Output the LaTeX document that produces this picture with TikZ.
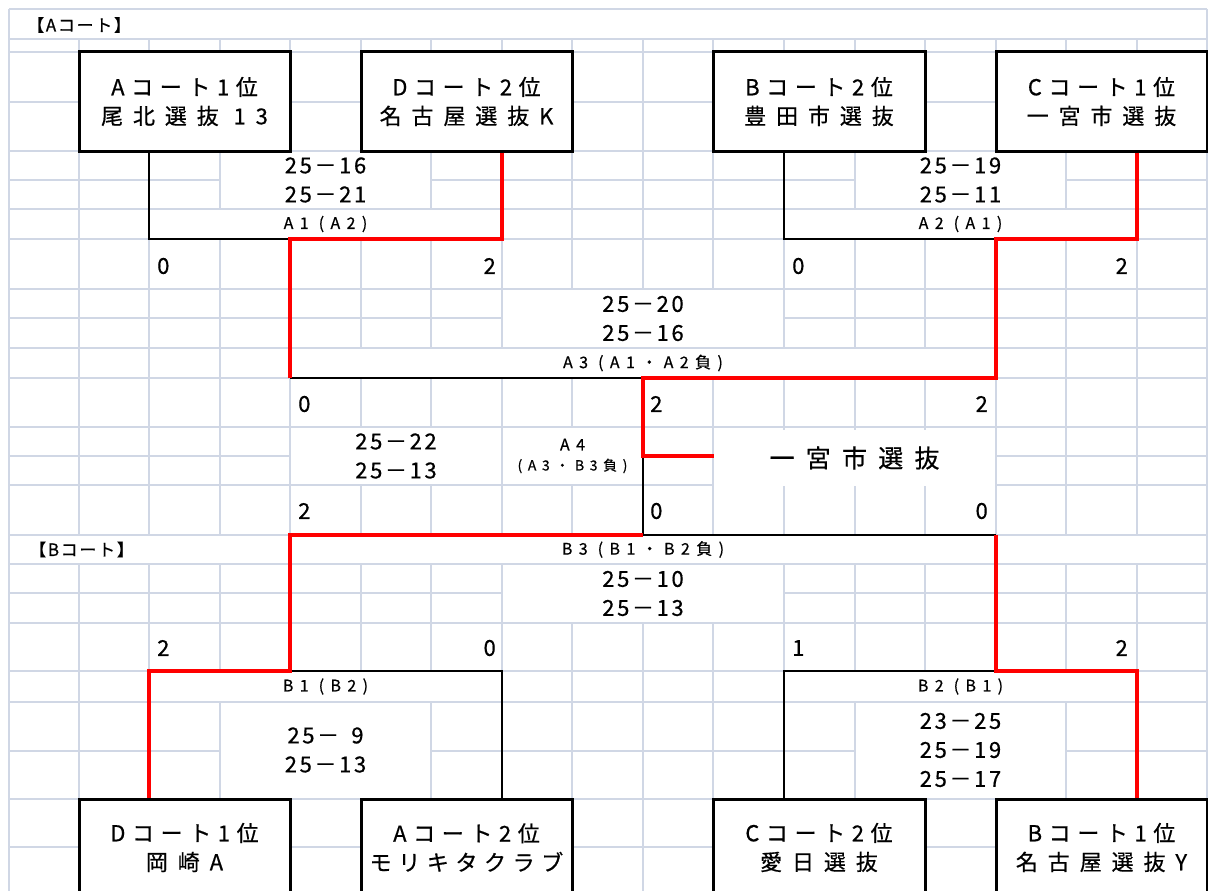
\documentclass[tikz,border=0pt]{standalone}
\usepackage{fontspec}
\setmainfont[FakeBold=0.6]{Noto Sans CJK JP}
\newfontfamily\teamfont[LetterSpace=45,FakeBold=0.6]{Noto Sans CJK JP}
\newfontfamily\courtfont[LetterSpace=30,FakeBold=0.6]{Noto Sans CJK JP}
\newfontfamily\scorefont[LetterSpace=12,FakeBold=0.6]{Noto Sans CJK JP}
\newfontfamily\labelfont[LetterSpace=40,FakeBold=0.6]{Noto Sans CJK JP}
\newfontfamily\headfont[LetterSpace=10,FakeBold=0.6]{Noto Sans CJK JP}
\definecolor{gridc}{RGB}{208,215,229}
\definecolor{winred}{RGB}{255,0,0}
\tikzset{
  gridline/.style={draw=gridc, line width=1.5pt},
  cell/.style 2 args={fill=white, inner sep=0pt, align=center, minimum width=#1, minimum height=#2},
  teambox/.style={draw, line width=3pt, fill=white, inner sep=0pt, align=center,
    minimum width=211, minimum height=99, font=\fontsize{22}{29}\selectfont},
  setscore/.style={font=\scorefont\fontsize{22}{29}\selectfont},
  gamelabel/.style={font=\labelfont\fontsize{16}{20}\selectfont},
  courthead/.style={inner sep=0pt, anchor=west, font=\headfont\fontsize{17}{20}\selectfont},
  pts/.style={inner sep=0pt, font=\fontsize{22}{24}\selectfont},
  loser/.style={draw=black, line width=2pt},
  winner/.style={draw=winred, line width=4pt, line join=miter},
}
\begin{document}
\begin{tikzpicture}[x=1pt, y=-1pt]
  \useasboundingbox (0,0) rectangle (1208,891);
  \clip (0,0) rectangle (1208,891);
  % sheet grid
  \foreach \y in {9,39,52,102,151,180,209,239,289,318,348,378,427,456,485,535,564,593,623,671,702,751,799,847}
    \draw [gridline] (9,\y) -- (1207,\y);
  \foreach \x in {9,79,149,220,290,361,431,502,572,643,713,784,855,925,996,1066,1137,1207}
    \draw [gridline] (\x,9) -- (\x,891);

  % merged cells
  \node [cell={1196}{28}] (ahead) at (608,24) {};
  \node [courthead] (acourt) at (27,25) {【Aコート】};
  \node [cell={209}{56}, setscore] (a1s) at (325.5,180) {25－16\\25－21};
  \node [cell={351}{28}, gamelabel] (a1t) at (325.5,224) {A1 (A2)};
  \node [cell={209}{56}, setscore] (a2s) at (960.5,180) {25－19\\25－11};
  \node [cell={351}{28}, gamelabel] (a2t) at (960.5,224) {A2 (A1)};
  \node [cell={280}{57}, setscore] (a3s) at (643,318.5) {25－20\\25－16};
  \node [cell={704}{28}, gamelabel] (a3t) at (643,363) {A3 (A1・A2負)};
  \node [cell={210}{56}, setscore] (a4s) at (396,456) {25－22\\25－13};
  \node [cell={139}{56}, gamelabel] (a4t) at (572.5,456) {A4\\{\fontsize{14}{18}\selectfont (A3・B3負)}};
  \node [cell={281}{56}, font=\teamfont\fontsize{25}{30}\selectfont] (champ) at (854.5,458) {一宮市選抜};
  \node [cell={1196}{27}] (bhead) at (608,549.5) {};
  \node [courthead] (bcourt) at (29,549.5) {【Bコート】};
  \node [gamelabel] (b3t) at (643,549.5) {B3 (B1・B2負)};
  \node [cell={280}{57}, setscore] (b3s) at (643,593.5) {25－10\\25－13};
  \node [cell={351}{29}, gamelabel] (b1t) at (325.5,686.5) {B1 (B2)};
  \node [cell={209}{95}, setscore] (b1s) at (325.5,750) {25－\hphantom{1}9\\25－13};
  \node [cell={351}{29}, gamelabel] (b2t) at (960.5,686.5) {B2 (B1)};
  \node [cell={209}{95}, setscore] (b2s) at (960.5,750) {23－25\\25－19\\25－17};

  % teams
  \node [teambox] (t1) at (184.5,101.5) {{\courtfont Aコート1位}\\{\teamfont 尾北選抜 13}};
  \node [teambox] (t2) at (466.5,101.5) {{\courtfont Dコート2位}\\{\teamfont 名古屋選抜K}};
  \node [teambox, minimum width=212] (t3) at (819,101.5) {{\courtfont Bコート2位}\\{\teamfont 豊田市選抜}};
  \node [teambox] (t4) at (1101.5,101.5) {{\courtfont Cコート1位}\\{\teamfont 一宮市選抜}};
  \node [teambox, minimum height=97] (u1) at (184.5,847.5) {{\courtfont Dコート1位}\\{\teamfont 岡崎A}};
  \node [teambox, minimum height=97] (u2) at (466.5,847.5) {{\courtfont Aコート2位}\\{\courtfont モリキタクラブ}};
  \node [teambox, minimum height=97, minimum width=212] (u3) at (819,847.5) {{\courtfont Cコート2位}\\{\teamfont 愛日選抜}};
  \node [teambox, minimum height=97] (u4) at (1101.5,847.5) {{\courtfont Bコート1位}\\{\teamfont 名古屋選抜Y}};

  % bracket corners
  \coordinate (a1l) at (149,239);
  \coordinate (a1m) at (290,239);
  \coordinate (a1r) at (502,239);
  \coordinate (a2l) at (784,239);
  \coordinate (a2m) at (996,239);
  \coordinate (a2r) at (1137,239);
  \coordinate (a3l) at (290,378);
  \coordinate (a3m) at (643,378);
  \coordinate (a3r) at (996,378);
  \coordinate (a4m) at (643,456);
  \coordinate (b3l) at (290,535);
  \coordinate (b3m) at (643,535);
  \coordinate (b3r) at (996,535);
  \coordinate (b1l) at (149,671);
  \coordinate (b1m) at (290,671);
  \coordinate (b1r) at (502,671);
  \coordinate (b2l) at (784,671);
  \coordinate (b2m) at (996,671);
  \coordinate (b2r) at (1137,671);

  \draw [loser] (t1.south -| a1l) -- (a1l) -- (a1m);
  \draw [loser] (t3.south -| a2l) -- (a2l) -- (a2m);
  \draw [loser] (a3l) -- (a3m);
  \draw [loser] (a4m) -- (b3m) -- (b3r);
  \draw [loser] (b1m) -- (b1r) -- (u2.north -| b1r);
  \draw [loser] (b2m) -- (b2l) -- (u3.north -| b2l);
  \draw [winner] (t2.south -| a1r) -- (a1r) -- (a1m) -- (a3l);
  \draw [winner] (t4.south -| a2r) -- (a2r) -- (a2m) -- (a3r) -- (a3m) -- (a4m) -- (champ.west |- a4m);
  \draw [winner] (u1.north -| b1l) -- (b1l) -- (b1m) -- (b3l) -- (b3m);
  \draw [winner] (u4.north -| b2r) -- (b2r) -- (b2m) -- (b3r);

  % sets won
  \node [pts, anchor=west] (p1) at (157,266) {0};
  \node [pts, anchor=east] (p2) at (496,266) {2};
  \node [pts, anchor=west] (p3) at (792,266) {0};
  \node [pts, anchor=east] (p4) at (1128,266) {2};
  \node [pts, anchor=west] (p5) at (298,404) {0};
  \node [pts, anchor=west] (p6) at (650,404) {2};
  \node [pts, anchor=east] (p7) at (988,404) {2};
  \node [pts, anchor=west] (p8) at (298,511) {2};
  \node [pts, anchor=west] (p9) at (650,511) {0};
  \node [pts, anchor=east] (p10) at (988,511) {0};
  \node [pts, anchor=west] (p11) at (157,648) {2};
  \node [pts, anchor=east] (p12) at (496,648) {0};
  \node [pts, anchor=west] (p13) at (792,648) {1};
  \node [pts, anchor=east] (p14) at (1128,648) {2};
\end{tikzpicture}
\end{document}
